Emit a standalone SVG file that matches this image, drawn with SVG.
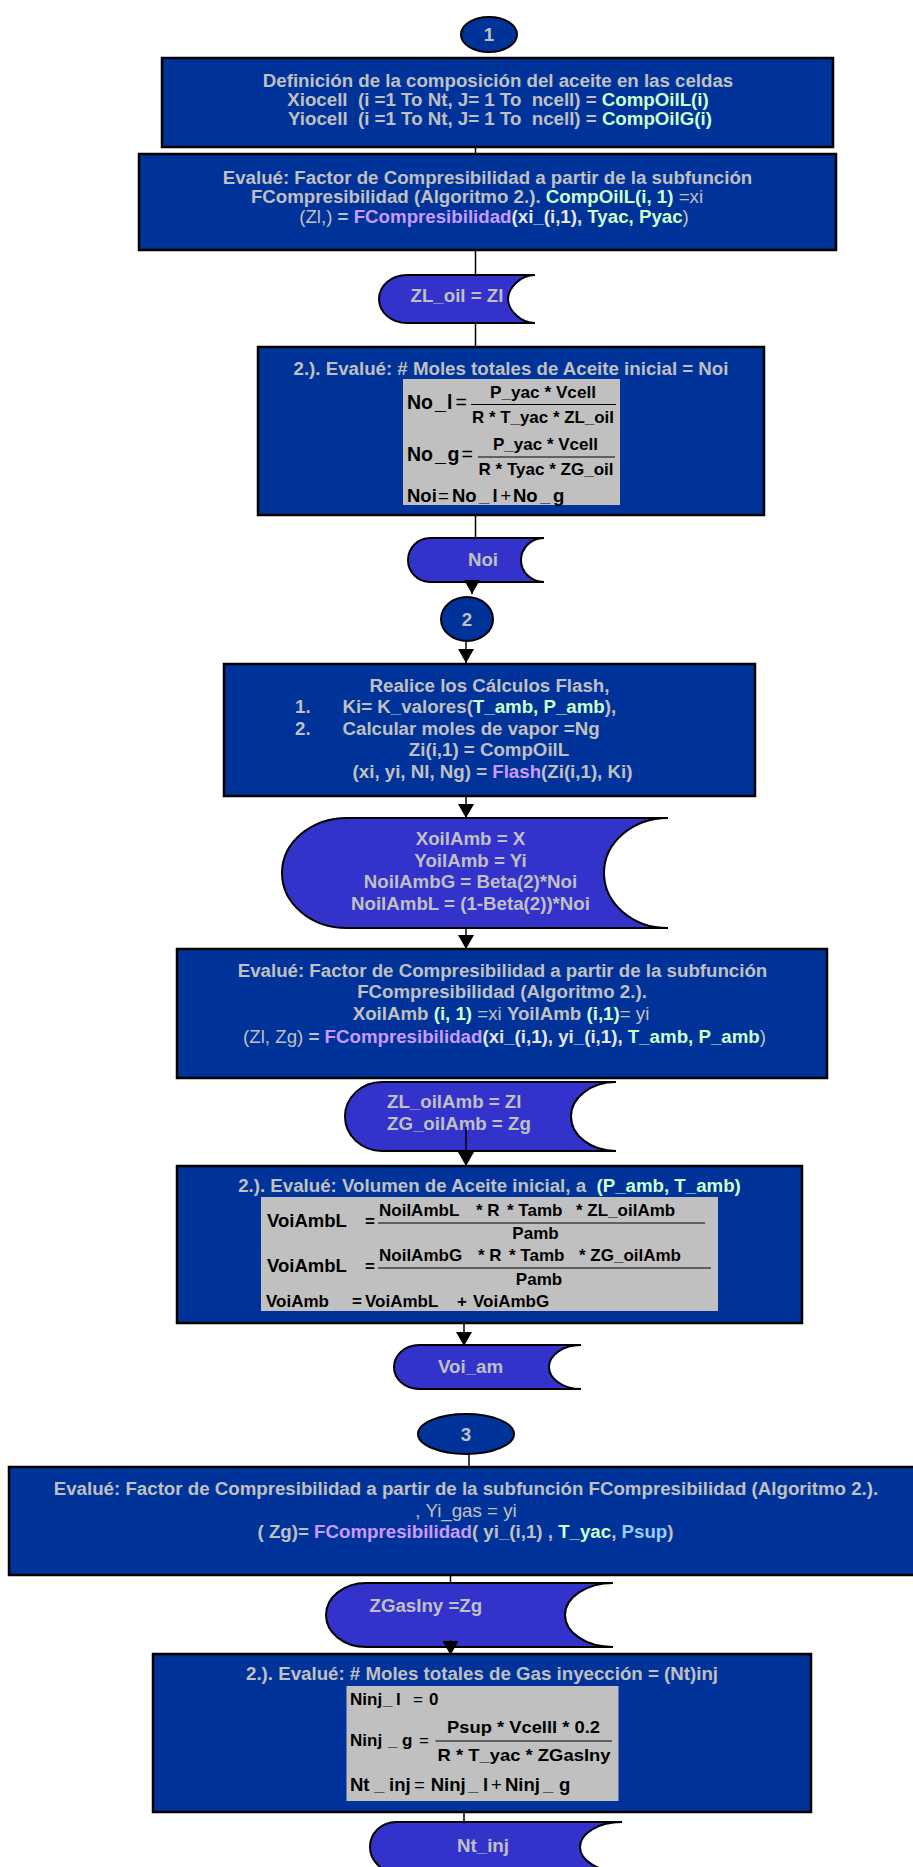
<svg xmlns="http://www.w3.org/2000/svg" width="913" height="1867" viewBox="0 0 913 1867">
  <style>
    .box { fill: #003399; stroke: #000; stroke-width: 2.5; }
    .io { fill: #3333CC; stroke: #000; stroke-width: 2; }
    .con { fill: #003399; stroke: #000; stroke-width: 2; }
    .eqbg { fill: #C0C0C0; }
    .t { font-family: "Liberation Sans", Arial, sans-serif; font-weight: bold; font-size: 18.7px; fill: #C0C0C0; }
    .c { text-anchor: middle; }
    .g { fill: #CCFFCC; }
    .p { fill: #CC99FF; }
    .b { fill: #99CCFF; }
    .n { font-weight: normal; }
    .f { font-family: "Liberation Sans", Arial, sans-serif; font-weight: bold; font-size: 17px; fill: #000; }
    .lhs { font-size: 19.5px; }
    .lhs2 { font-size: 18.5px; }
    .frac { stroke: #000; stroke-width: 1.2; }
    .wire { stroke: #000; stroke-width: 1.5; fill: none; }
  </style>
  <defs>
    <marker id="arrow" viewBox="0 0 14 16" refX="14" refY="8" markerWidth="14" markerHeight="16" markerUnits="userSpaceOnUse" orient="auto">
      <path d="M0,0 L14,8 L0,16 Z" fill="#000"/>
    </marker>
  </defs>

  <rect width="913" height="1867" fill="#fff"/>

  <!-- connector 1 -->
  <g id="c1">
    <ellipse class="con" cx="489" cy="34.5" rx="28" ry="17.5"/>
    <text class="t c" x="489" y="41" font-size="19">1</text>
  </g>

  <g id="def-composicion">
    <rect class="box" x="162" y="58" width="671" height="89"/>
    <text class="t c" x="498" y="87">Definición de la composición del aceite en las celdas</text>
    <text class="t c" x="498" y="106" xml:space="preserve">Xiocell  (i =1 To Nt, J= 1 To  ncell) = <tspan class="g">CompOilL(i)</tspan></text>
    <text class="t c" x="500" y="125" xml:space="preserve">Yiocell  (i =1 To Nt, J= 1 To  ncell) = <tspan class="g">CompOilG(i)</tspan></text>
  </g>

  <g id="eval-z-oil">
    <rect class="box" x="139" y="154" width="697" height="96"/>
    <text class="t c" x="487.5" y="184">Evalué: Factor de Compresibilidad a partir de la subfunción</text>
    <text class="t c" x="477" y="203" xml:space="preserve">FCompresibilidad (Algoritmo 2.). <tspan class="g">CompOilL(i, 1)</tspan><tspan class="n"> =xi</tspan></text>
    <text class="t c" x="494" y="223" xml:space="preserve"><tspan class="n">(Zl,)</tspan> = <tspan class="p">FCompresibilidad</tspan><tspan fill="#E6E6E6">(xi_(i,1), </tspan><tspan class="g">Tyac, Pyac</tspan><tspan class="n">)</tspan></text>
  </g>

  <g id="zl-oil">
    <path class="io" d="M407,275 L535,275 C520.1,275 508,288.2 508,299 C508,309.8 520.1,323 535,323 L407,323 C391.5,323 379,312.2 379,299 C379,285.8 391.5,275 407,275 Z"/>
    <text class="t c" x="457" y="302">ZL_oil = Zl</text>
  </g>

  <g id="moles-aceite">
    <rect class="box" x="258" y="347" width="506" height="168"/>
    <text class="t c" x="511" y="375">2.). Evalué: # Moles totales de Aceite inicial = Noi</text>
    <rect class="eqbg" x="403" y="379" width="217" height="126"/>
    <text class="f lhs" y="409"><tspan x="407">No</tspan><tspan x="435">_</tspan><tspan x="447">l</tspan><tspan class="n" x="455.5">=</tspan></text>
    <text class="f c" x="543" y="398" textLength="106" lengthAdjust="spacingAndGlyphs">P_yac * Vcell</text>
    <line class="frac" x1="471" y1="404.5" x2="616" y2="404.5"/>
    <text class="f c" x="543" y="423" textLength="142" lengthAdjust="spacingAndGlyphs">R * T_yac * ZL_oil</text>
    <text class="f lhs" y="461"><tspan x="407">No</tspan><tspan x="435">_</tspan><tspan x="447.5">g</tspan><tspan class="n" x="461.5">=</tspan></text>
    <text class="f c" x="545.5" y="450" textLength="105" lengthAdjust="spacingAndGlyphs">P_yac * Vcell</text>
    <line class="frac" x1="478" y1="457" x2="615" y2="457"/>
    <text class="f c" x="546" y="475" textLength="135" lengthAdjust="spacingAndGlyphs">R * Tyac * ZG_oil</text>
    <text class="f lhs2" y="502"><tspan x="407">Noi</tspan><tspan class="n" x="438">=</tspan><tspan x="452">No</tspan><tspan x="479">_</tspan><tspan x="492.5">l</tspan><tspan class="n" x="500.5">+</tspan><tspan x="513">No</tspan><tspan x="540">_</tspan><tspan x="553">g</tspan></text>
  </g>

  <g id="noi">
    <path class="io" d="M430,538 L544,538 C531.3,538 521,547.9 521,560 C521,572.1 531.3,582 544,582 L430,582 C417.9,582 408,572.1 408,560 C408,547.9 417.9,538 430,538 Z"/>
    <text class="t c" x="483" y="566">Noi</text>
  </g>

  <!-- connector 2 -->
  <g id="c2">
    <ellipse class="con" cx="467" cy="619" rx="26" ry="22"/>
    <text class="t c" x="467" y="626" font-size="19">2</text>
  </g>

  <g id="flash">
    <rect class="box" x="224" y="664" width="531" height="132"/>
    <text class="t c" x="489.5" y="692">Realice los Cálculos Flash,</text>
    <text class="t" x="295" y="713">1.</text>
    <text class="t" x="342.5" y="713">Ki= K_valores(<tspan class="g">T_amb, P_amb</tspan>),</text>
    <text class="t" x="295" y="735">2.</text>
    <text class="t" x="342.5" y="735">Calcular moles de vapor =Ng</text>
    <text class="t c" x="489" y="756">Zi(i,1) = CompOilL</text>
    <text class="t c" x="492.5" y="778">(xi, yi, Nl, Ng) = <tspan class="p">Flash</tspan>(Zi(i,1), Ki)</text>
  </g>

  <g id="xoil-amb">
    <path class="io" d="M347,818 L668,818 C632.7,818 604,842.6 604,873 C604,903.4 632.7,928 668,928 L347,928 C311.1,928 282,903.4 282,873 C282,842.6 311.1,818 347,818 Z"/>
    <text class="t c" x="470.5" y="845">XoilAmb = X</text>
    <text class="t c" x="470.5" y="867">YoilAmb = Yi</text>
    <text class="t c" x="470.5" y="888">NoilAmbG = Beta(2)*Noi</text>
    <text class="t c" x="470.5" y="910">NoilAmbL = (1-Beta(2))*Noi</text>
  </g>

  <g id="eval-z-amb">
    <rect class="box" x="177" y="949" width="650" height="129"/>
    <text class="t c" x="502.5" y="977">Evalué: Factor de Compresibilidad a partir de la subfunción</text>
    <text class="t c" x="502" y="998">FCompresibilidad (Algoritmo 2.).</text>
    <text class="t c" x="501" y="1020" xml:space="preserve">XoilAmb <tspan class="g">(i, 1)</tspan><tspan class="n"> =xi </tspan>YoilAmb <tspan class="g">(i,1)</tspan><tspan class="n">= yi</tspan></text>
    <text class="t c" x="504.5" y="1043" xml:space="preserve"><tspan class="n">(Zl, Zg)</tspan> = <tspan class="p">FCompresibilidad</tspan><tspan fill="#E6E6E6">(xi_(i,1), yi_(i,1), </tspan><tspan class="g">T_amb, P_amb</tspan><tspan class="n">)</tspan></text>
  </g>

  <g id="z-oil-amb">
    <path class="io" d="M382,1082 L616,1082 C591.2,1082 571,1097.5 571,1116.5 C571,1135.5 591.2,1151 616,1151 L382,1151 C361.6,1151 345,1135.5 345,1116.5 C345,1097.5 361.6,1082 382,1082 Z"/>
    <text class="t" x="387" y="1108">ZL_oilAmb = Zl</text>
    <text class="t" x="387" y="1130">ZG_oilAmb = Zg</text>
  </g>

  <g id="volumen-aceite">
    <rect class="box" x="177" y="1166" width="625" height="157"/>
    <text class="t c" x="489.5" y="1192" xml:space="preserve">2.). Evalué: Volumen de Aceite inicial, a  <tspan class="g">(P_amb, T_amb)</tspan></text>
    <rect class="eqbg" x="261" y="1197" width="457" height="114"/>
    <text class="f lhs2" x="267" y="1227">VoiAmbL</text>
    <text class="f n" x="365" y="1227">=</text>
    <text class="f" y="1216"><tspan x="379">NoilAmbL</tspan><tspan x="476">* R</tspan><tspan x="507">* Tamb</tspan><tspan x="576">* ZL_oilAmb</tspan></text>
    <line class="frac" x1="378" y1="1223" x2="705" y2="1223"/>
    <text class="f c" x="535.5" y="1239">Pamb</text>
    <text class="f lhs2" x="267" y="1272">VoiAmbL</text>
    <text class="f n" x="365" y="1272">=</text>
    <text class="f" y="1261"><tspan x="379">NoilAmbG</tspan><tspan x="478">* R</tspan><tspan x="509">* Tamb</tspan><tspan x="579">* ZG_oilAmb</tspan></text>
    <line class="frac" x1="378" y1="1268" x2="711" y2="1268"/>
    <text class="f c" x="539" y="1285">Pamb</text>
    <text class="f" x="266" y="1307">VoiAmb</text>
    <text class="f n" x="352" y="1307">=</text>
    <text class="f" x="365" y="1307">VoiAmbL</text>
    <text class="f n" x="457" y="1307">+</text>
    <text class="f" x="473" y="1307">VoiAmbG</text>
  </g>

  <g id="voi-am">
    <path class="io" d="M419,1345 L581,1345 C563.3,1345 549,1354.9 549,1367 C549,1379.1 563.3,1389 581,1389 L419,1389 C405.2,1389 394,1379.1 394,1367 C394,1354.9 405.2,1345 419,1345 Z"/>
    <text class="t c" x="470.5" y="1373">Voi_am</text>
  </g>

  <!-- connector 3 -->
  <g id="c3">
    <ellipse class="con" cx="466" cy="1434" rx="48" ry="20"/>
    <text class="t c" x="466" y="1441" font-size="19">3</text>
  </g>

  <g id="eval-z-gas">
    <rect class="box" x="9" y="1467" width="915" height="108"/>
    <text class="t c" x="466" y="1495">Evalué: Factor de Compresibilidad a partir de la subfunción FCompresibilidad (Algoritmo 2.).</text>
    <text class="t c n" x="466" y="1517">, Yi_gas = yi</text>
    <text class="t c" x="465.5" y="1538">( Zg)= <tspan class="p">FCompresibilidad</tspan>( yi_(i,1) , <tspan class="g">T_yac</tspan>, <tspan class="b">Psup</tspan>)</text>
  </g>

  <g id="z-gas-iny">
    <path class="io" d="M366,1583 L613,1583 C586.5,1583 565,1597.3 565,1615 C565,1632.7 586.5,1647 613,1647 L366,1647 C343.9,1647 326,1632.7 326,1615 C326,1597.3 343.9,1583 366,1583 Z"/>
    <text class="t" x="369.5" y="1612" font-size="21.5">ZGasIny =Zg</text>
  </g>

  <g id="moles-gas">
    <rect class="box" x="153" y="1654" width="658" height="158"/>
    <text class="t c" x="482" y="1680">2.). Evalué: # Moles totales de Gas inyección = (Nt)inj</text>
    <rect class="eqbg" x="346.5" y="1686" width="272" height="115"/>
    <text class="f" y="1705"><tspan x="350">Ninj</tspan><tspan x="383">_</tspan><tspan x="396">l</tspan><tspan class="n" x="413">=</tspan><tspan x="429">0</tspan></text>
    <text class="f" y="1746"><tspan x="350">Ninj</tspan><tspan x="388">_</tspan><tspan x="402">g</tspan><tspan class="n" x="419">=</tspan></text>
    <text class="f c" x="523.5" y="1733" textLength="153" lengthAdjust="spacingAndGlyphs">Psup * Vcelll * 0.2</text>
    <line class="frac" x1="435.5" y1="1741" x2="612" y2="1741"/>
    <text class="f c" x="524" y="1761" textLength="173" lengthAdjust="spacingAndGlyphs">R * T_yac * ZGasIny</text>
    <text class="f lhs2" y="1791"><tspan x="350">Nt</tspan><tspan x="374">_</tspan><tspan x="389">inj</tspan><tspan class="n" x="414">=</tspan><tspan x="430.7">Ninj</tspan><tspan x="468">_</tspan><tspan x="483">l</tspan><tspan class="n" x="491">+</tspan><tspan x="505">Ninj</tspan><tspan x="543">_</tspan><tspan x="559">g</tspan></text>
  </g>

  <g id="nt-inj">
    <path class="io" d="M396,1822 L622,1822 C598.8,1822 580,1833.2 580,1847 C580,1860.8 598.8,1872 622,1872 L396,1872 C381.6,1872 370,1860.8 370,1847 C370,1833.2 381.6,1822 396,1822 Z"/>
    <text class="t c" x="483" y="1852" font-size="21">Nt_inj</text>
  </g>

  <g id="connectors">
    <line class="wire" x1="475.5" y1="147" x2="475.5" y2="154"/>
    <line class="wire" x1="475.5" y1="250" x2="475.5" y2="275"/>
    <line class="wire" x1="475.5" y1="323" x2="475.5" y2="347"/>
    <line class="wire" x1="475.5" y1="515" x2="475.5" y2="538"/>
    <line class="wire" x1="472" y1="582" x2="472" y2="594" marker-end="url(#arrow)"/>
    <line class="wire" x1="466" y1="641" x2="466" y2="663" marker-end="url(#arrow)"/>
    <line class="wire" x1="466" y1="796" x2="466" y2="818" marker-end="url(#arrow)"/>
    <line class="wire" x1="466" y1="928" x2="466" y2="949" marker-end="url(#arrow)"/>
    <line class="wire" x1="466" y1="1127" x2="466" y2="1166" marker-end="url(#arrow)"/>
    <line class="wire" x1="464" y1="1324" x2="464" y2="1346" marker-end="url(#arrow)"/>
    <line class="wire" x1="469" y1="1454" x2="469" y2="1467"/>
    <line class="wire" x1="450.5" y1="1575" x2="450.5" y2="1583"/>
    <line class="wire" x1="450.5" y1="1640" x2="450.5" y2="1655" marker-end="url(#arrow)"/>
    <line class="wire" x1="464" y1="1812" x2="464" y2="1822"/>
  </g>
</svg>
